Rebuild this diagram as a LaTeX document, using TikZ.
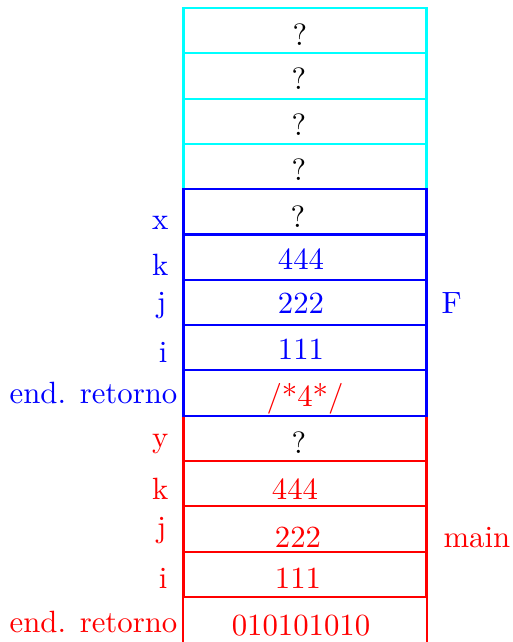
\documentclass[tikz,border=0pt]{standalone}
\definecolor{cy}{RGB}{0,255,255}
\definecolor{bl}{RGB}{0,0,255}
\definecolor{rd}{RGB}{255,0,0}
\begin{document}
\begin{tikzpicture}[x=0.325pt,y=-0.325pt,
  cell/.style={rectangle, inner sep=0pt, minimum width=78.975pt, minimum height=14.7225pt, line width=0.7pt, draw=#1},
  bare/.style={rectangle, inner sep=0pt, minimum width=78.975pt, minimum height=14.7225pt},
  val/.style={anchor=base, inner sep=0pt, text=#1},
  lbl/.style={anchor=base east, inner sep=0pt, text=#1},
  tag/.style={anchor=base west, inner sep=0pt, text=#1}]
\useasboundingbox (0,0) rectangle (512,642);
% cyan cells
\foreach \k in {0,...,3} \node[cell=cy] (c\k) at (305,{30.65+45.3*\k}) {};
% red cells
\foreach \k in {9,...,12} \node[cell=rd] (c\k) at (305,{30.65+45.3*\k}) {};
\node[bare] (c13) at (305,{30.65+45.3*13}) {};
\draw[rd, line width=0.7pt] (c13.north west) -- (c13.south west);
\draw[rd, line width=0.7pt] (c13.north east) -- (c13.south east);
% blue cells
\foreach \k in {4,...,8} \node[cell=bl] (c\k) at (305,{30.65+45.3*\k}) {};
% values
\node[val=black] (v0) at (300,45) {?};
\node[val=black] (v1) at (299,89) {?};
\node[val=black] (v2) at (299,135) {?};
\node[val=black] (v3) at (299,180) {?};
\node[val=black] (v4) at (298,227) {?};
\node[val=bl] (v5) at (301,269) {444};
\node[val=bl] (v6) at (301,313) {222};
\node[val=bl] (v7) at (301,359) {111};
\node[val=rd] (v8) at (305,406) {/*4*/};
\node[val=black] (v9) at (299,453) {?};
\node[val=rd] (v10) at (295,499) {444};
\node[val=rd] (v11) at (298,547) {222};
\node[val=rd] (v12) at (298,588) {111};
\node[val=rd] (v13) at (301,635) {010101010};
% labels
\node[lbl=bl] (l4) at (169,229) {x};
\node[lbl=bl] (l5) at (169,275) {k};
\node[lbl=bl] (l6) at (167,312) {j};
\node[lbl=bl] (l7) at (168,362) {i};
\node[lbl=bl] (l8) at (178,403) {end. retorno};
\node[lbl=rd] (l9) at (169,447) {y};
\node[lbl=rd] (l10) at (169,499) {k};
\node[lbl=rd] (l11) at (167,537) {j};
\node[lbl=rd] (l12) at (168,588) {i};
\node[lbl=rd] (l13) at (178,632) {end. retorno};
% frame names
\node[tag=bl] (F) at (441,313) {F};
\node[tag=rd] (main) at (443,547) {main};
\end{tikzpicture}
\end{document}
